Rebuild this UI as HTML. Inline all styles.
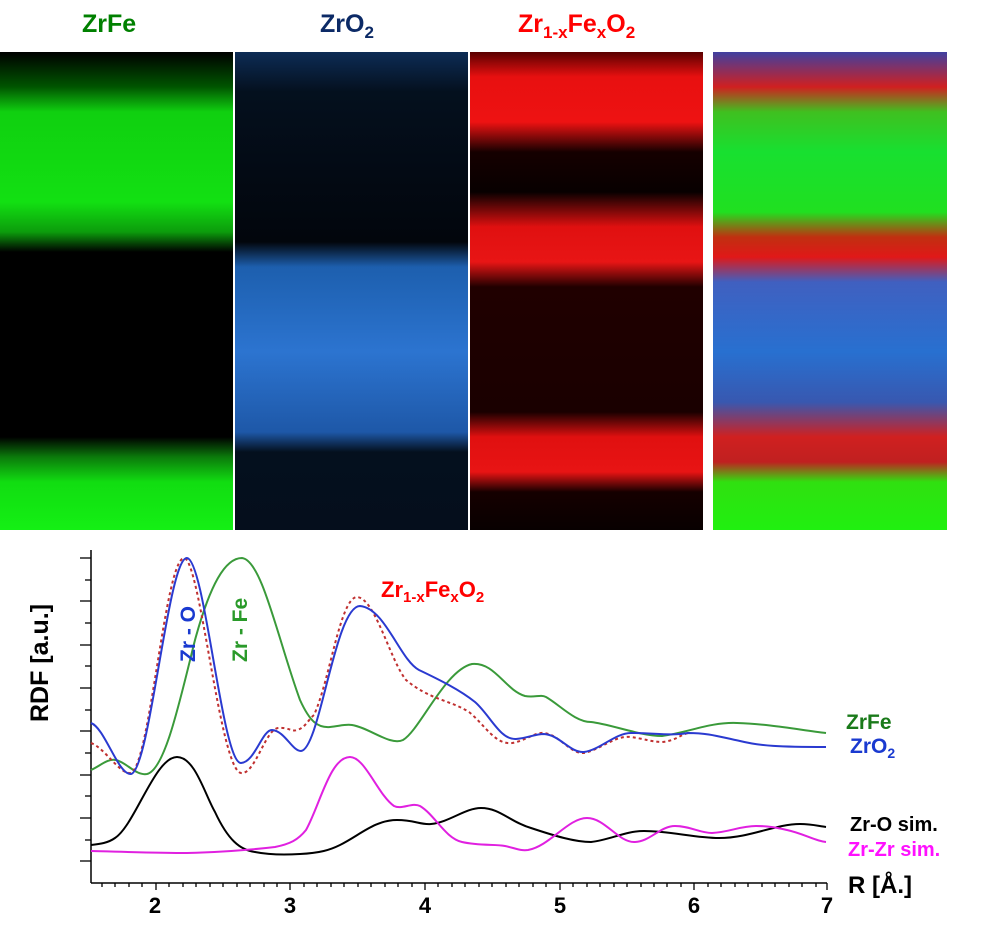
<!DOCTYPE html>
<html><head><meta charset="utf-8"><style>
html,body{margin:0;padding:0;background:#fff;width:981px;height:932px;overflow:hidden;font-family:"Liberation Sans",sans-serif}
.p{position:absolute;top:52px;height:478px}
.t{position:absolute;top:10px;font-weight:bold;font-size:25px}
</style></head><body>
<div class="t" style="left:82px;color:#008000">ZrFe</div>
<div class="t" style="left:320px;color:#0c2a66">ZrO<sub style="font-size:17px">2</sub></div>
<div class="t" style="left:518px;color:#f00">Zr<sub style="font-size:17px">1-x</sub>Fe<sub style="font-size:17px">x</sub>O<sub style="font-size:17px">2</sub></div>
<div class="p" style="left:0;width:233px;background:linear-gradient(#000 0px,#050 35px,#10d010 60px,#12e012 150px,#0c9c0c 180px,#000 200px,#000 385px,#0b7a0b 405px,#11dd11 430px,#14f014 478px)"></div>
<div class="p" style="left:235px;width:233px;background:linear-gradient(#0d2c55 0px,#04101e 40px,#030a14 120px,#02060c 190px,#1d5fae 215px,#2c74d0 300px,#1e58a8 380px,#04101e 400px,#050e1c 478px)"></div>
<div class="p" style="left:470px;width:233px;background:linear-gradient(#5a0000 0px,#e81010 25px,#ee1212 70px,#150000 100px,#080000 140px,#e01010 175px,#e81515 210px,#200000 235px,#1a0000 360px,#e01010 385px,#e81414 420px,#150000 440px,#080000 478px)"></div>
<div class="p" style="left:713px;width:234px;background:linear-gradient(#4040a0 0px,#d02020 35px,#40c020 60px,#18e030 100px,#20e020 160px,#c03010 185px,#e01818 205px,#4060c0 230px,#2870d0 300px,#3858b0 350px,#d02020 385px,#c02020 410px,#30e010 430px,#20f010 478px)"></div>
<svg width="981" height="932" style="position:absolute;left:0;top:0">
<g stroke="#000" stroke-width="1.5" fill="none">
<line x1="91" y1="550" x2="91" y2="883"/>
<line x1="91" y1="883" x2="827" y2="883"/>
<g stroke-width="1.3">
<line x1="80" y1="558" x2="91" y2="558"/><line x1="80" y1="601" x2="91" y2="601"/><line x1="80" y1="645" x2="91" y2="645"/><line x1="80" y1="688" x2="91" y2="688"/><line x1="80" y1="731" x2="91" y2="731"/><line x1="80" y1="775" x2="91" y2="775"/><line x1="80" y1="818" x2="91" y2="818"/><line x1="80" y1="861" x2="91" y2="861"/>
<line x1="85" y1="580" x2="91" y2="580"/><line x1="85" y1="623" x2="91" y2="623"/><line x1="85" y1="666" x2="91" y2="666"/><line x1="85" y1="710" x2="91" y2="710"/><line x1="85" y1="753" x2="91" y2="753"/><line x1="85" y1="796" x2="91" y2="796"/><line x1="85" y1="840" x2="91" y2="840"/>
</g>
<path stroke-width="1.3" d="M102,883v4M115,883v4M129,883v4M142,883v4M156,883v7M169,883v4M183,883v4M196,883v4M210,883v4M223,883v4M237,883v4M250,883v4M264,883v4M277,883v4M290,883v7M304,883v4M317,883v4M331,883v4M344,883v4M358,883v4M371,883v4M385,883v4M398,883v4M412,883v4M425,883v7M438,883v4M452,883v4M465,883v4M479,883v4M492,883v4M506,883v4M519,883v4M533,883v4M546,883v4M560,883v7M573,883v4M587,883v4M600,883v4M614,883v4M627,883v4M641,883v4M654,883v4M667,883v4M681,883v4M694,883v7M708,883v4M721,883v4M735,883v4M748,883v4M762,883v4M775,883v4M789,883v4M802,883v4M816,883v4M827,883v7"/>
</g>
<g font-weight="bold" font-size="22" text-anchor="middle" fill="#000">
<text x="155" y="913">2</text><text x="290" y="913">3</text><text x="425" y="913">4</text><text x="560" y="913">5</text><text x="694" y="913">6</text><text x="827" y="913">7</text>
</g>
<text transform="translate(48,722) rotate(-90)" font-weight="bold" font-size="25" fill="#000">RDF [a.u.]</text>
<text x="848" y="893" font-weight="bold" font-size="24" fill="#000">R [Å.]</text>
<g fill="none" stroke-width="2" stroke-linejoin="round">
<path stroke="#3a9a3a" d="M91,770 C100,766 108,758 116,760 C126,762 136,776 147,774 C165,770 180,700 195,640 C210,585 225,558 242,558 C262,560 278,640 300,700 C310,722 318,728 330,727 C340,726 345,724 352,725 C370,728 390,746 403,740 C420,730 445,670 472,664 C495,662 505,690 525,696 C535,698 540,694 546,697 C560,705 575,722 591,722 C610,724 640,736 662,736 C690,732 710,722 737,723 C770,724 800,730 826,733"/>
<path stroke="#c03030" stroke-dasharray="3,3" d="M91,743 C105,748 120,775 131,773 C150,765 165,560 184,558 C200,558 220,770 241,773 C255,775 265,730 278,728 C288,727 292,732 297,730 C305,728 308,720 314,715 C330,680 340,598 357,597 C375,598 390,660 406,680 C430,700 450,700 469,712 C485,725 495,745 512,743 C525,741 535,732 544,733 C560,735 570,754 584,753 C600,750 615,735 631,737 C645,739 652,742 662,742 C675,741 680,735 688,733"/>
<path stroke="#2a3ad0" d="M91,723 C105,728 118,775 131,774 C150,770 168,558 187,558 C205,560 222,763 241,763 C255,762 262,730 272,730 C285,731 292,751 301,751 C320,749 335,606 360,606 C385,608 400,660 419,670 C440,680 460,690 475,702 C490,715 500,740 516,739 C528,738 535,734 544,734 C560,735 570,753 584,752 C600,750 615,733 631,733 C655,733 670,736 688,733 C710,733 720,737 740,741 C760,746 780,747 826,747"/>
<path stroke="#000" d="M91,845 C100,844 108,843 115,838 C135,825 155,757 177,757 C195,757 205,795 215,812 C228,840 240,850 255,852 C270,855 285,855 300,854 C320,853 330,850 340,845 C360,835 375,820 397,820 C415,820 420,825 431,824 C450,822 465,808 481,808 C500,808 510,822 531,828 C555,836 575,842 591,842 C610,840 625,831 644,831 C670,831 695,838 719,838 C750,838 775,824 800,824 C812,824 818,826 826,827"/>
<path stroke="#e020e0" d="M91,851 C130,852 160,853 187,853 C220,852 250,850 275,847 C290,844 298,840 306,830 C320,805 330,757 350,757 C365,757 378,795 394,806 C402,810 412,802 420,806 C435,815 445,838 462,842 C480,846 495,844 505,846 C515,848 520,851 528,850 C550,846 568,818 587,818 C605,818 618,842 634,842 C650,842 660,826 675,826 C690,826 700,833 712,833 C730,832 740,826 756,826 C770,826 778,828 787,830 C805,834 815,841 826,842"/>
</g>
<g font-weight="bold" font-size="21">
<text transform="translate(195,662) rotate(-90)" fill="#1a3ad0">Zr - O</text>
<text transform="translate(247,662) rotate(-90)" fill="#2a9a2a">Zr - Fe</text>
<text x="381" y="597" fill="#f00" font-size="22">Zr<tspan font-size="15" dy="5">1-x</tspan><tspan dy="-5">Fe</tspan><tspan font-size="15" dy="5">x</tspan><tspan dy="-5">O</tspan><tspan font-size="15" dy="5">2</tspan></text>
<text x="846" y="729" fill="#1a7a1a">ZrFe</text>
<text x="850" y="753" fill="#1a3ad0">ZrO<tspan font-size="14" dy="5">2</tspan></text>
<text x="850" y="831" fill="#000" font-size="20">Zr-O sim.</text>
<text x="848" y="856" fill="#ff10ff" font-size="20">Zr-Zr sim.</text>
</g>
</svg>
</body></html>
